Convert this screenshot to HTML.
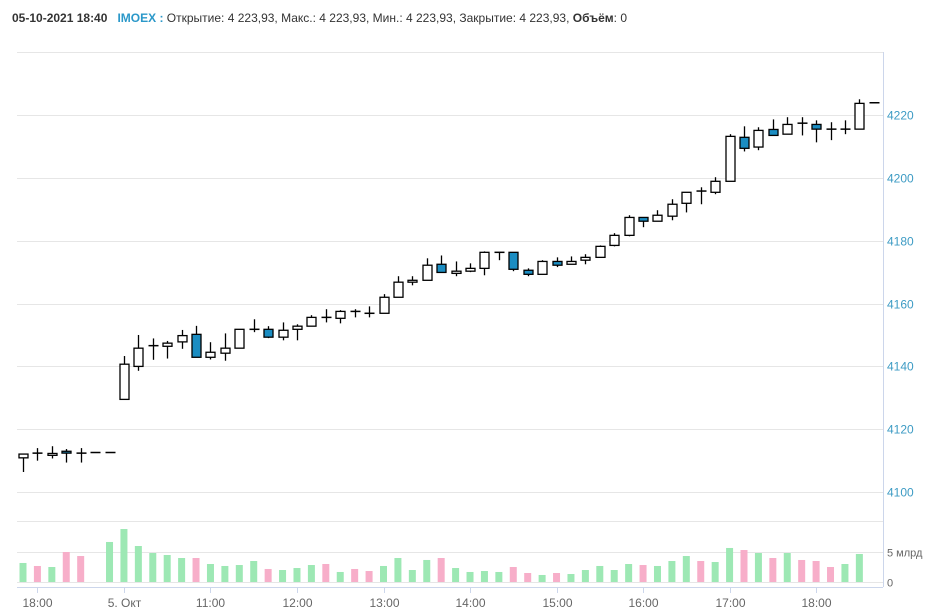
<!DOCTYPE html>
<html><head><meta charset="utf-8">
<style>
body{margin:0;background:#fff;width:938px;height:610px;overflow:hidden;font-family:"Liberation Sans",sans-serif;}
#hdr{position:absolute;left:12px;top:11px;font-size:12px;color:#333;white-space:nowrap;}
svg{position:absolute;left:0;top:0;}
</style></head><body>
<div id="hdr"><b>05-10-2021 18:40</b>&nbsp;&nbsp; <b style="color:#2b98c9">IMOEX :</b> Открытие: 4 223,93, Макс.: 4 223,93, Мин.: 4 223,93, Закрытие: 4 223,93, <b>Объём</b>: 0</div>
<svg id="chart" width="938" height="610"></svg>
<script>
const opens=[4110.9,4112.4,4111.7,4113.0,4112.4,4112.6,4112.6,
4129.5,4140.0,4146.6,4146.4,4147.8,4150.2,4142.9,4144.2,4145.8,4151.8,4151.8,4149.3,4151.8,4152.8,4155.6,4155.3,4157.5,4156.9,4156.9,4162.0,4166.8,4167.4,4172.5,4169.6,4170.3,4171.2,4176.3,4176.3,4170.6,4169.3,4173.4,4172.5,4173.8,4174.7,4178.5,4181.7,4187.4,4186.2,4187.8,4191.9,4195.8,4195.4,4198.9,4212.9,4209.8,4215.4,4213.9,4217.4,4217.0,4215.5,4215.5,4215.5,4223.9];
const highs=[4112.1,4114.0,4114.6,4113.7,4114.0,4112.6,4112.6,
4143.3,4150.0,4148.9,4148.1,4151.6,4152.9,4147.7,4150.5,4151.8,4155.0,4152.8,4154.0,4153.4,4156.3,4158.2,4157.9,4158.2,4159.1,4163.0,4168.7,4168.7,4174.4,4175.3,4173.4,4172.8,4176.6,4176.3,4176.3,4171.2,4173.8,4174.7,4175.0,4175.7,4178.5,4182.4,4188.1,4187.5,4189.7,4193.2,4195.4,4197.0,4200.2,4213.9,4216.4,4216.1,4218.6,4219.3,4219.3,4218.3,4217.7,4218.3,4225.0,4223.9];
const lows=[4106.4,4110.0,4110.7,4109.4,4109.4,4112.6,4112.6,
4129.5,4138.6,4142.1,4142.5,4145.6,4142.9,4142.2,4141.8,4145.8,4150.9,4149.0,4148.3,4148.3,4152.8,4154.0,4153.7,4155.6,4155.6,4156.9,4162.0,4165.8,4167.4,4169.9,4168.7,4170.0,4169.0,4173.8,4170.3,4168.7,4169.3,4171.6,4172.5,4172.5,4174.7,4178.2,4181.4,4184.3,4186.2,4186.5,4189.0,4191.6,4194.8,4198.9,4208.4,4208.8,4213.5,4213.9,4213.5,4211.3,4212.0,4213.9,4215.5,4223.9];
const closes=[4112.1,4112.4,4112.3,4112.4,4112.4,4112.6,4112.6,
4140.7,4145.8,4146.6,4147.4,4149.8,4142.9,4144.5,4145.8,4151.8,4151.8,4149.3,4151.5,4152.8,4155.6,4155.6,4157.5,4157.5,4156.9,4162.0,4166.8,4167.4,4172.2,4169.9,4170.3,4171.2,4176.3,4176.3,4170.9,4169.3,4173.4,4172.2,4173.4,4174.7,4178.2,4181.7,4187.4,4186.2,4188.1,4191.6,4195.4,4195.8,4198.9,4213.2,4209.4,4215.1,4213.5,4217.0,4217.4,4215.5,4215.5,4215.5,4223.7,4223.9];
const volumes=[3.17,2.67,2.5,5.0,4.33,0,6.67,8.83,6.0,4.83,4.5,4.0,4.0,3.0,2.67,2.83,3.5,2.17,2.0,2.33,2.83,3.0,1.67,2.17,1.83,2.67,4.0,2.0,3.67,4.0,2.33,1.67,1.83,1.67,2.5,1.5,1.17,1.5,1.33,2.0,2.67,2.0,3.0,2.83,2.67,3.5,4.33,3.5,3.33,5.67,5.33,4.83,4.0,4.83,3.67,3.5,2.5,3.0,4.67,0];
const volUp=[1,0,1,0,0,1,1,1,1,1,1,1,0,1,1,1,1,0,1,1,1,0,1,0,0,1,1,1,1,0,1,1,1,1,0,0,1,0,1,1,1,1,1,0,1,1,1,0,1,1,0,1,0,1,0,0,0,1,1,1];
const priceTicks=[4100,4120,4140,4160,4180,4200,4220];
const volTicks=[0,5];
const volTickLabels=["0","5 млрд"];
const timeLabels=["18:00","5. Окт","11:00","12:00","13:00","14:00","15:00","16:00","17:00","18:00"];
const timeLabelIdx=[1,7,13,19,25,31,37,43,49,55];

const NS="http://www.w3.org/2000/svg";
const svg=document.getElementById('chart');
const X0=23,DX=14.42,L=17,R=883;
const xs=i=>X0+DX*i;
const ys=v=>115+(4220-v)*3.1425;
const yv=v=>582-v*6;
function mk(t,a,p){const e=document.createElementNS(NS,t);for(const k in a)e.setAttribute(k,a[k]);(p||svg).appendChild(e);return e;}

// frame
let e=mk('line',{x1:L,x2:R,y1:52.5,y2:52.5,stroke:'#e6e6e6'});


priceTicks.forEach(v=>{
  const y=Math.round(ys(v))+0.5;
  const g=mk('line',{x1:L,x2:R,y1:y,y2:y,stroke:'#e6e6e6'});
  
  
  const t=mk('text',{x:887,y:y+4,'font-size':12,fill:'#3d9bc4'});
  t.textContent=v;
  
  
});
e=mk('line',{x1:883.5,x2:883.5,y1:52,y2:587,stroke:'#ccd6eb'});


e=mk('line',{x1:L,x2:R,y1:521.5,y2:521.5,stroke:'#e6e6e6'});


volTicks.forEach((v,k)=>{
  const y=Math.round(yv(v))+0.5;
  const g=mk('line',{x1:L,x2:R,y1:y,y2:y,stroke:'#e6e6e6'});
  
  
  const t=mk('text',{x:887,y:y+4,'font-size':11,fill:'#666'});
  t.textContent=volTickLabels[k];
  
  
});
e=mk('line',{x1:L,x2:R,y1:587.5,y2:587.5,stroke:'#ccd6eb'});


timeLabels.forEach((s,k)=>{
  const x=Math.round(xs(timeLabelIdx[k]))+0.5;
  const tk=mk('line',{x1:x,x2:x,y1:587,y2:593,stroke:'#ccd6eb'});
  
  
  const t=mk('text',{x:x,y:607,'font-size':12,fill:'#666','text-anchor':'middle'});
  t.textContent=s;
  
  
});
// volume bars
volumes.forEach((v,i)=>{
  if(v<=0)return;
  const b=mk('rect',{x:xs(i)-3.5,y:yv(v),width:7,height:582-yv(v),fill:volUp[i]?'#9de8b4':'#f7aec9'});
  
  
});
// candles
opens.forEach((o,i)=>{
  const c=closes[i],x=Math.round(xs(i))+0.5;
  const g=mk('g',{});
  
  
  mk('line',{x1:x,x2:x,y1:ys(highs[i]),y2:ys(lows[i]),stroke:'#000','stroke-width':1.3},g);
  const top=ys(Math.max(o,c)),bot=ys(Math.min(o,c));
  if(bot-top<1.2){
    mk('line',{x1:x-5,x2:x+5,y1:(top+bot)/2,y2:(top+bot)/2,stroke:'#000','stroke-width':1.5},g);
  } else {
    mk('rect',{x:x-4.5,y:top,width:9,height:bot-top,fill:c>=o?'#fff':'#1b8dc2',stroke:'#000','stroke-width':1.3},g);
  }
});
</script>
</body></html>
